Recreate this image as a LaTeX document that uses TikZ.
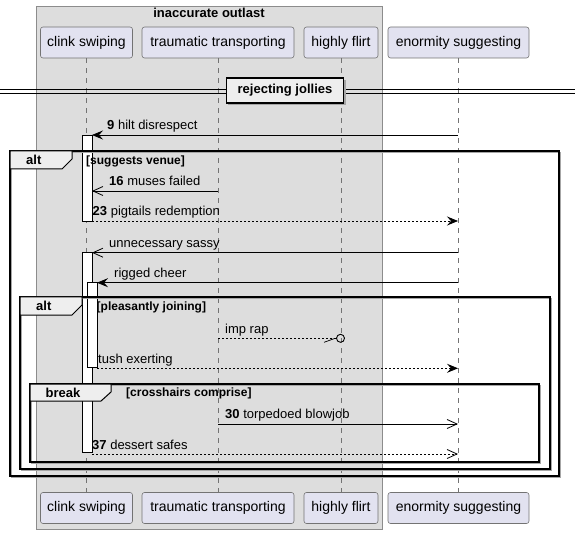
\documentclass[tikz,border=0pt]{standalone}
\usepackage{fontspec}
\setmainfont{Liberation Sans}
\usetikzlibrary{arrows.meta}
\definecolor{partfill}{HTML}{E2E2F0}
\definecolor{boxfill}{HTML}{DDDDDD}
\definecolor{tabfill}{HTML}{EEEEEE}
\tikzset{
  participant/.style={draw=black!55, fill=partfill, rounded corners=2.5pt, minimum height=31pt,
    inner sep=0pt, line width=0.6pt, font=\fontsize{14}{16}\selectfont},
  lifeline/.style={draw=black!55, line width=0.6pt, dash pattern=on 5pt off 5pt},
  actbar/.style={draw=black, fill=white, minimum width=10pt, inner sep=0pt, line width=0.8pt},
  msg/.style={line width=0.8pt},
  ret/.style={line width=0.8pt, dash pattern=on 2pt off 2pt},
  filledtip/.style={-{Stealth[length=11pt,width=9pt,inset=4pt]}},
  opentip/.style={-{Straight Barb[length=10pt,width=9pt]}},
  lbl/.style={anchor=base west, inner sep=0pt, font=\fontsize{13}{15}\selectfont},
  frameline/.style={draw=black, line width=1.5pt},
  frameshadow/.style={draw=black!35, line width=1.2pt},
  tab/.style={draw=black, fill=tabfill, line width=1pt},
  tablbl/.style={anchor=base west, inner sep=0pt, font=\bfseries\fontsize{13}{15}\selectfont},
  guard/.style={anchor=base west, inner sep=0pt, font=\bfseries\fontsize{12}{14}\selectfont},
}
\begin{document}
\begin{tikzpicture}[x=1pt,y=-1pt]
\useasboundingbox (0,0) rectangle (575,534);
\fill[white] (0,0) rectangle (575,534);

% participant box
\draw[fill=boxfill, draw=black!45, line width=0.8pt] (36,6) rectangle (382,529);
\node[anchor=base, inner sep=0pt, font=\bfseries\fontsize{13}{15}\selectfont] (boxtitle) at (209,17.5) {inaccurate outlast};

% participants, top and bottom
\node[participant, minimum width=92pt] (cT) at (86.5,42.5) {clink swiping};
\node[participant, minimum width=152pt] (tT) at (218,42.5) {traumatic transporting};
\node[participant, minimum width=74pt] (hT) at (341,42.5) {highly flirt};
\node[participant, minimum width=141pt] (eT) at (458.5,42.5) {enormity suggesting};
\node[participant, minimum width=92pt] (cB) at (86.5,508) {clink swiping};
\node[participant, minimum width=152pt] (tB) at (218,508) {traumatic transporting};
\node[participant, minimum width=74pt] (hB) at (341,508) {highly flirt};
\node[participant, minimum width=141pt] (eB) at (458.5,508) {enormity suggesting};

% lifelines
\draw[lifeline] (cT.south) -- (cB.north);
\draw[lifeline] (tT.south) -- (tB.north);
\draw[lifeline] (hT.south) -- (hB.north);
\draw[lifeline] (eT.south) -- (eB.north);

% divider
\draw[line width=0.8pt] (0,89.5) -- (575,89.5);
\draw[line width=0.8pt] (0,93.5) -- (575,93.5);
\fill[black!35] (228,80) rectangle (346,105);
\node[draw=black, fill=tabfill, line width=1.6pt, minimum width=117pt, minimum height=25pt, inner sep=0pt,
  font=\bfseries\fontsize{13}{15}\selectfont] (div) at (285,90.5) {rejecting jollies};

% activation bars
\node[actbar, minimum height=86pt] (act1) at (87,178) {};
\node[actbar, minimum height=200pt] (act2) at (87,352.8) {};
\node[actbar, minimum height=85pt] (act3) at (92,325.2) {};

% frames (shadow first, then the frame itself)
\draw[frameshadow] (11.5,152.5) rectangle (560.5,477.5);
\draw[frameline] (10,151) rectangle (559,476);
\draw[frameshadow] (21.5,298.5) rectangle (551.5,470.5);
\draw[frameline] (20,297) rectangle (550,469);
\draw[frameshadow] (31.5,385.5) rectangle (540.5,463.5);
\draw[frameline] (30,384) rectangle (539,462);

% frame tabs
\draw[tab] (10,151) -- (72,151) -- (72,159) -- (62,169) -- (10,169) -- cycle;
\node[tablbl] (altA) at (26,165) {alt};
\node[guard] (gA) at (86,164.5) {[suggests venue]};
\draw[tab] (20,297) -- (82,297) -- (82,305) -- (72,315) -- (20,315) -- cycle;
\node[tablbl] (altB) at (36,311) {alt};
\node[guard] (gB) at (96.5,311) {[pleasantly joining]};
\draw[tab] (30,384) -- (111,384) -- (111,392) -- (101,401) -- (30,401) -- cycle;
\node[tablbl] (brk) at (45.5,397) {break};
\node[guard] (gC) at (126,396.5) {[crosshairs comprise]};

% message end points
\coordinate (m9s) at (458,135);    \coordinate (m9e) at (92,135);
\coordinate (m16s) at (218,191);   \coordinate (m16e) at (92,191);
\coordinate (m23s) at (92,221);    \coordinate (m23e) at (458,221);
\coordinate (mUs) at (458,252.7);  \coordinate (mUe) at (92,252.7);
\coordinate (mRs) at (458,282.7);  \coordinate (mRe) at (97,282.7);
\coordinate (mIs) at (218,338.3);
\node[draw=black, line width=0.9pt, circle, minimum size=8pt, inner sep=0pt] (impend) at (340.5,338.3) {};
\coordinate (mTs) at (97,368.3);   \coordinate (mTe) at (458,368.3);
\coordinate (m30s) at (218,424);   \coordinate (m30e) at (458,424);
\coordinate (m37s) at (92,454);    \coordinate (m37e) at (458,454);

% messages
\draw[msg, filledtip] (m9s) -- (m9e);
\node[lbl] (l9) at (107,130) {\textbf{9} hilt disrespect};
\draw[msg, opentip] (m16s) -- (m16e);
\node[lbl] (l16) at (109,185.7) {\textbf{16} muses failed};
\draw[ret, filledtip] (m23s) -- (m23e);
\node[lbl] (l23) at (92.5,216) {\textbf{23} pigtails redemption};
\draw[msg, opentip] (mUs) -- (mUe);
\node[lbl] (lU) at (109,247.5) {unnecessary sassy};
\draw[msg, filledtip] (mRs) -- (mRe);
\node[lbl] (lR) at (114,277.5) {rigged cheer};
\draw[ret] (mIs) -- (impend.west);
\draw[line width=0.7pt] (impend.west) ++(-2,0.4) -- ++(-10,3.6);
\node[lbl] (lI) at (225,333) {imp rap};
\draw[ret, filledtip] (mTs) -- (mTe);
\node[lbl] (lT) at (98,363) {tush exerting};
\draw[msg, opentip] (m30s) -- (m30e);
\node[lbl] (l30) at (225,418.5) {\textbf{30} torpedoed blowjob};
\draw[ret, opentip] (m37s) -- (m37e);
\node[lbl] (l37) at (92,449) {\textbf{37} dessert safes};
\end{tikzpicture}
\end{document}
